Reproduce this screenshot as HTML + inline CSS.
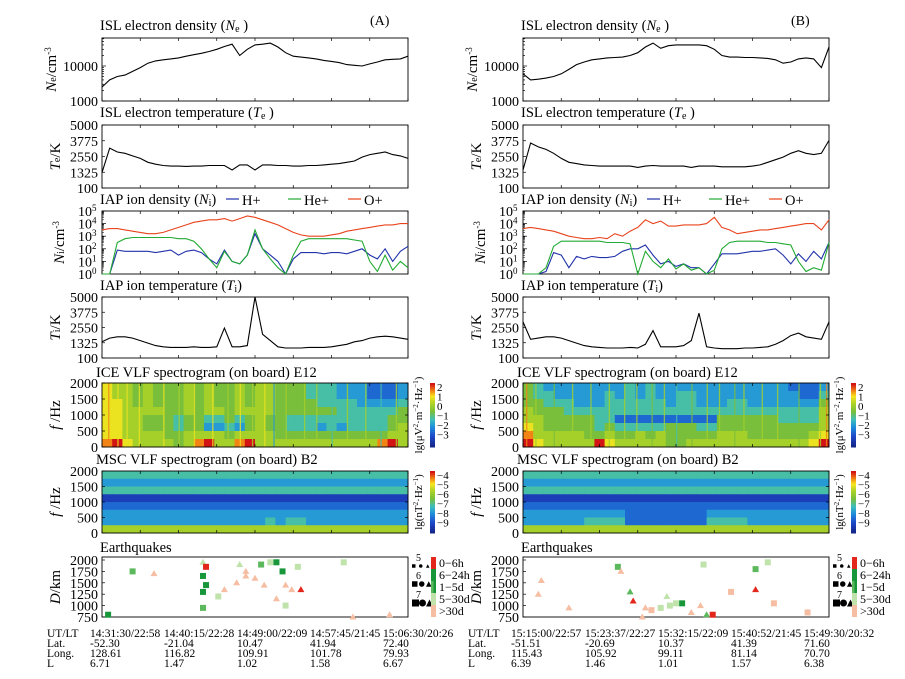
<!DOCTYPE html>
<html><head><meta charset="utf-8"><style>
html,body{margin:0;padding:0;background:#fff}
svg{display:block;font-family:"Liberation Serif",serif}
</style></head><body>
<svg id="fig" width="905" height="679" viewBox="0 0 905 679" xmlns="http://www.w3.org/2000/svg"></svg>
<script>
// ---------- DATA ----------
const neA = [2500,4000,5000,5500,7000,9000,12000,14000,15000,16000,17000,19000,21000,23000,26000,30000,36000,42000,20000,30000,40000,42000,45000,35000,24000,19000,18000,17000,16000,14500,13500,12500,11000,10500,10000,11500,13000,15000,15500,16000,19000];
const neB = [6000,4000,4200,4500,5000,6000,8000,11000,13000,15000,16000,17000,17500,18000,20000,24000,35000,45000,32000,38000,40000,40000,40000,40000,38000,30000,20000,18000,18000,17500,17500,17000,16500,15000,12000,13000,16000,17000,16000,9000,35000];
const teA = [1300,3200,2900,2800,2600,2400,2100,1950,1850,1800,1800,1780,1800,1800,1850,1850,1850,1500,1900,1900,1500,1900,1900,1850,1850,1800,1800,1850,1850,1900,1950,2000,2100,2200,2500,2700,2800,2900,2700,2600,2400];
const teB = [1500,3600,3300,3100,2800,2400,2100,2000,1900,1850,1800,1800,1800,1800,1800,1700,1800,1850,1800,1800,1800,1800,1700,1800,1800,1800,1750,1750,1750,1750,1800,1900,2100,2300,2500,2800,3000,2800,2700,2800,3800];
const opA = [3.5,3.6,3.6,3.5,3.4,3.3,3.2,3.2,3.3,3.5,3.7,3.9,4.1,4.2,4.3,4.3,4.4,4.2,4.4,4.6,4.5,4.3,4.1,3.9,3.6,3.3,3.1,3.0,3.0,3.0,3.1,3.2,3.4,3.5,3.6,3.7,3.8,3.9,3.9,4.0,4.0];
const opB = [3.6,3.7,3.6,3.5,3.4,3.2,3.0,2.9,2.8,2.8,2.9,2.8,3.2,3.0,3.4,3.7,4.3,4.0,4.2,3.8,3.8,3.9,3.9,3.9,4.0,4.5,3.7,3.5,3.2,3.3,3.4,3.5,3.5,3.6,3.7,3.8,3.9,4.0,4.0,3.5,4.3];
const heA = [0,0,2.5,2.8,2.9,2.9,2.9,2.9,2.9,2.9,2.8,2.8,2.6,2.0,1.2,0.5,1.8,1.0,0.8,1.5,3.5,2.0,1.2,0.5,0,1.5,2.6,2.8,2.8,2.8,2.8,2.8,2.8,2.7,2.6,1.0,0.2,1.5,0.3,1.0,0.5];
const heB = [0,0,0,0.5,2.2,2.6,2.6,2.6,2.6,2.6,2.6,2.5,2.5,2.5,2.4,0,1.8,1.0,0.5,1.2,0.4,0.8,0.3,0.5,0,0.3,2.0,2.5,2.6,2.6,2.6,2.6,2.5,2.5,2.4,2.3,1.0,0.2,0.5,0.3,2.5];
const hpA = [0,0,1.9,1.8,1.8,1.8,1.8,1.7,1.8,1.9,1.5,1.8,1.9,1.7,1.2,0.8,1.9,1.0,0.8,1.5,3.2,2.0,1.5,1.0,0,1.2,1.7,1.7,1.7,1.6,1.7,1.7,1.6,1.8,2.0,1.5,1.2,2.0,1.0,1.8,2.2];
const hpB = [0,0,0,0.2,1.7,1.5,0.5,1.4,1.2,1.4,1.3,1.3,1.4,1.8,2.0,2.0,2.3,1.5,0.8,1.0,0.6,0.8,0.5,0.5,0,0.8,1.6,1.6,1.6,1.7,1.8,1.8,1.9,2.0,1.5,0.8,1.6,1.0,1.8,1.2,2.5];
const tiA = [1400,1700,1800,1800,1700,1500,1300,1100,1000,950,950,950,1000,950,950,1000,2500,1000,1000,1100,5000,2000,1500,1000,900,900,900,950,950,950,1000,1100,1200,1400,1500,1700,1800,1850,1800,1700,1600];
const tiB = [3000,1600,1700,1800,1800,1700,1500,1300,1100,1000,950,900,900,900,950,900,1200,2300,1000,1000,1000,1100,1500,3700,1000,900,850,850,850,900,900,950,1000,1200,1500,1900,2100,1800,1700,1600,3000];
// spectrogram levels (0..9), rows top(2000 Hz) -> bottom(0 Hz)
const iceA = ["766565556565565665554443332223","766565556565565665554443332223","776565556565565665555444433334","776666556566566665555554444445","776655545544545655444444444455","776655545533435655444343444456","776666556666566665555555555566","897666656896689666666666666896"];
const iceB = ["543333333343433333333333332223","544333334343433443333333333224","554443334444443443334433333335","655544444444444444444444444446","665555544222222222255555544446","765555545444445554455555555556","866666556556565555566655555567","976666697666665566666666666679"];
const mscA = ["444444444444444444444444444444","333333333333333333333333333333","444444444444444444444444444444","111111111111111111111111111111","222222222222222222222222222222","333333333333333333333333333333","333333333333333343443333333333","666666666666666666666666666666"];
const mscB = ["444444444444444444444444444444","333333333333333333333333333333","444444444444444444444444444444","111111111111111111111111111111","222222222222222222222222222222","333333333322222222333333333333","333333444422222222444433333333","666666666666666666666666666666"];
// vertical streaks in spectrograms (time fraction, level)
const streakTA = [0.02,0.05,0.08,0.12,0.2,0.25,0.3,0.36,0.41,0.45,0.49,0.53,0.56,0.6,0.66,0.7,0.75,0.8,0.86,0.91,0.96];
const streakLA = [8,7,7,7,7,6,7,7,6,7,6,7,3,6,6,6,4,6,6,4,6];
const streakTB = [0.01,0.04,0.1,0.16,0.22,0.28,0.33,0.37,0.42,0.46,0.5,0.55,0.6,0.64,0.69,0.72,0.78,0.83,0.9,0.97,0.99];
const streakLB = [8,6,5,6,6,6,6,6,5,6,4,5,6,6,5,6,6,6,5,6,8];
// earthquakes: time fraction, distance (km), age class, shape
const eqTA = [0.02,0.33,0.1,0.17,0.33,0.34,0.33,0.34,0.33,0.38,0.4,0.45,0.47,0.5,0.52,0.55,0.57,0.59,0.6,0.62,0.6,0.64,0.65,0.47,0.44,0.53,0.57,0.79,0.94,0.82];
const eqDA = [800,1650,1750,1700,1950,1850,1300,1450,950,1200,1350,1900,1750,1600,1900,1950,1950,1750,1450,1350,1000,1850,1350,1650,1500,1450,1150,1950,800,750];
const eqAgeA = [1,1,2,4,3,0,1,1,2,3,4,3,4,4,2,3,1,1,4,4,3,3,0,4,4,4,4,3,4,4];
const eqShpA = "sssttsssssttttssssttsstttttstt";
const eqTB = [0.31,0.32,0.06,0.05,0.15,0.35,0.36,0.4,0.42,0.45,0.48,0.5,0.52,0.55,0.58,0.6,0.62,0.59,0.68,0.76,0.76,0.8,0.82,0.93,0.39,0.47];
const eqDB = [1850,1750,1550,1250,950,1300,1100,950,900,950,1000,1050,1050,850,1000,800,800,1900,1300,1800,1350,1950,1050,850,750,1200];
const eqAgeB = [2,4,4,4,4,2,0,4,4,3,3,3,1,4,4,2,0,3,4,2,0,3,4,4,4,3];
const eqShpB = "stttttttssssstttsssstssstts";
const teTicks = [100,1325,2550,3775,5000];
const fTicks = [0,500,1000,1500,2000];
const dTicks = [750,1000,1250,1500,1750,2000];
const iceCbar = ["2","1","0","\u22121","\u22122","\u22123"];
const mscCbar = ["\u22124","\u22125","\u22126","\u22127","\u22128","\u22129"];
const ageLabels = ["0\u22126h","6\u221224h","1\u22125d","5\u221230d",">30d"];
const utA = ["14:31:30/22:58","14:40:15/22:28","14:49:00/22:09","14:57:45/21:45","15:06:30/20:26"];
const latA = ["-52.30","-21.04","10.47","41.94","72.40"];
const lonA = ["128.61","116.82","109.91","101.78","79.93"];
const lA = ["6.71","1.47","1.02","1.58","6.67"];
const utB = ["15:15:00/22:57","15:23:37/22:27","15:32:15/22:09","15:40:52/21:45","15:49:30/20:32"];
const latB = ["-51.51","-20.69","10.37","41.39","71.60"];
const lonB = ["115.43","105.92","99.11","81.14","70.70"];
const lB = ["6.39","1.46","1.01","1.57","6.38"];

// ---------- DRAWING ----------
const NS="http://www.w3.org/2000/svg";
const svg=document.getElementById('fig');
function mk(tag,attrs,parent){const e=document.createElementNS(NS,tag);for(const k in attrs)e.setAttribute(k,attrs[k]);(parent||svg).appendChild(e);return e;}
function txt(x,y,s,size,anchor,parent,extra){const e=mk('text',Object.assign({x:x,y:y,'font-size':size,'text-anchor':anchor||'start',fill:'#000'},extra||{}),parent);e.innerHTML=s;return e;}
const jetStops=[[0,[20,40,140]],[0.15,[30,70,200]],[0.3,[30,140,220]],[0.42,[60,190,190]],[0.55,[120,190,60]],[0.68,[170,210,40]],[0.8,[250,230,30]],[0.9,[240,120,20]],[1,[210,20,20]]];
function jet(v){for(let i=1;i<jetStops.length;i++){if(v<=jetStops[i][0]){const a=jetStops[i-1],b=jetStops[i],f=(v-a[0])/(b[0]-a[0]);const c=a[1].map((x,j)=>Math.round(x+(b[1][j]-x)*f));return `rgb(${c[0]},${c[1]},${c[2]})`;}}return 'rgb(210,20,20)';}
const ageColors=["#e3261c","#17973a","#5cb85c","#bfe3ab","#f5bea3"];
const TF=14, TT=14.5;

const rows={ne:[38,101],te:[125,188],ni:[211,274],ti:[297,358],ice:[383,447],msc:[471,533],eq:[557,617]};

function xTicks(g,x0,x1,y0,y1){for(let i=0;i<=8;i++){const x=x0+(x1-x0)*i/8;mk('line',{x1:x,x2:x,y1:y1,y2:y1-3,stroke:'#000','stroke-width':0.7},g);mk('line',{x1:x,x2:x,y1:y0,y2:y0+3,stroke:'#000','stroke-width':0.7},g);}}
function frame(g,x0,x1,y0,y1,name){const r=mk('rect',{x:x0,y:y0,width:x1-x0,height:y1-y0,fill:'none',stroke:'#000','stroke-width':0.9},g);}
function yLabel(g,x,yc,s){return txt(x,yc,s,15,'middle',g,{transform:`rotate(-90 ${x} ${yc})`});}
function linePath(g,vals,x0,x1,yfun,color,name){let d='';vals.forEach((v,i)=>{const x=x0+(x1-x0)*i/(vals.length-1);d+=(i?'L':'M')+x.toFixed(1)+' '+yfun(v).toFixed(1);});const p=mk('path',{d:d,fill:'none',stroke:color,'stroke-width':1.1},g);}

function drawColumn(ox,side){
  const x0=ox, x1=ox+306;
  const S=side==='A';
  const g=mk('g',{});
  
  
  const lblX=x0-50, tickX=x0-4;
  let [y0,y1]=rows.ne;
  txt(x0-2,30,'ISL electron density (<tspan font-style="italic">N</tspan><tspan font-size="10" dy="2">e</tspan><tspan dy="-2"> )</tspan>',TT,'start',g);
  const neY=v=>y1-(Math.log10(v)-3)*35;
  frame(g,x0,x1,y0,y1,'ne-panel-'+side);
  for(let d=3;d<=4;d++)for(let m=1;m<10;m++){const v=m*Math.pow(10,d);const y=neY(v);if(y<y0)continue;mk('line',{x1:x0,x2:x0+(m===1?4:2),y1:y,y2:y,stroke:'#000','stroke-width':0.7},g);}
  txt(tickX,neY(1000)+5,'1000',TF,'end',g);txt(tickX,neY(10000)+5,'10000',TF,'end',g);
  yLabel(g,lblX+4,(y0+y1)/2,'<tspan font-style="italic">N</tspan><tspan font-size="10">e</tspan>/cm<tspan font-size="9" dy="-5">-3</tspan>');
  xTicks(g,x0,x1,y0,y1);
  linePath(g,S?neA:neB,x0,x1,v=>Math.max(y0,neY(v)),'#000','ne-line-'+side);
  [y0,y1]=rows.te;
  txt(x0-2,117,'ISL electron temperature (<tspan font-style="italic">T</tspan><tspan font-size="10" dy="2">e</tspan><tspan dy="-2"> )</tspan>',TT,'start',g);
  const tY=(a,b)=>v=>b-(v-100)/4900*(b-a);
  let ty=tY(y0,y1);
  frame(g,x0,x1,y0,y1,'te-panel-'+side);
  teTicks.forEach(v=>{txt(tickX,ty(v)+5,v,TF,'end',g);mk('line',{x1:x0,x2:x0+3,y1:ty(v),y2:ty(v),stroke:'#000','stroke-width':0.7},g);});
  yLabel(g,lblX+8,(y0+y1)/2,'<tspan font-style="italic">T</tspan><tspan font-size="10">e</tspan>/K');
  xTicks(g,x0,x1,y0,y1);
  linePath(g,S?teA:teB,x0,x1,ty,'#000','te-line-'+side);
  [y0,y1]=rows.ni;
  txt(x0-2,204,'IAP ion density (<tspan font-style="italic">N</tspan><tspan font-size="10" dy="2">i</tspan><tspan dy="-2">)</tspan>',TT,'start',g);
  const legX=x0+124;
  [['H+','#2233aa',0],['He+','#22aa33',62],['O+','#e8431c',122]].forEach(([n,c,dx])=>{const lx=legX+dx;const l=mk('line',{x1:lx,x2:lx+13,y1:199,y2:199,stroke:c,'stroke-width':1.2},g);const t=txt(lx+16,205,n,TT,'start',g);});
  const niY=v=>y1-v/5*(y1-y0);
  frame(g,x0,x1,y0,y1,'ni-panel-'+side);
  for(let d=0;d<=5;d++){txt(tickX-6,niY(d)+5,'10',TF,'end',g);txt(tickX-6,niY(d),d,9,'start',g);mk('line',{x1:x0,x2:x0+4,y1:niY(d),y2:niY(d),stroke:'#000','stroke-width':0.7},g);}
  for(let d=0;d<5;d++)for(let m=2;m<10;m++){const y=niY(d+Math.log10(m));mk('line',{x1:x0,x2:x0+2,y1:y,y2:y,stroke:'#000','stroke-width':0.5},g);}
  yLabel(g,lblX+12,(y0+y1)/2,'<tspan font-style="italic">N</tspan><tspan font-size="10">i</tspan>/cm<tspan font-size="9" dy="-5">-3</tspan>');
  xTicks(g,x0,x1,y0,y1);
  linePath(g,S?hpA:hpB,x0,x1,niY,'#2233aa','h-plus-line-'+side);
  linePath(g,S?heA:heB,x0,x1,niY,'#22aa33','he-plus-line-'+side);
  linePath(g,S?opA:opB,x0,x1,niY,'#e8431c','o-plus-line-'+side);
  [y0,y1]=rows.ti;
  txt(x0-2,290,'IAP ion temperature (<tspan font-style="italic">T</tspan><tspan font-size="10" dy="2">i</tspan><tspan dy="-2">)</tspan>',TT,'start',g);
  ty=tY(y0,y1);
  frame(g,x0,x1,y0,y1,'ti-panel-'+side);
  teTicks.forEach(v=>{txt(tickX,ty(v)+5,v,TF,'end',g);mk('line',{x1:x0,x2:x0+3,y1:ty(v),y2:ty(v),stroke:'#000','stroke-width':0.7},g);});
  yLabel(g,lblX+8,(y0+y1)/2,'<tspan font-style="italic">T</tspan><tspan font-size="10">i</tspan>/K');
  xTicks(g,x0,x1,y0,y1);
  linePath(g,S?tiA:tiB,x0,x1,ty,'#000','ti-line-'+side);
  function spec(key,mat,title,ty0,cbarLbls,unit,name,stT,stL){
    const [a,b]=rows[key];
    txt(x0-6,ty0,title,TT,'start',g);
    const nr=mat.length,nc=mat[0].length,cw=(x1-x0)/nc,ch=(b-a)/nr;
    for(let r=0;r<nr;r++)for(let c=0;c<nc;c++){const v=+mat[r][c]/9;const rc=mk('rect',{x:x0+c*cw,y:a+r*ch,width:cw+0.4,height:ch+0.4,fill:jet(v)},g);}
    if(stT)stT.forEach((t,i)=>{const x=x0+t*(x1-x0);const s=mk('rect',{x:x,y:a,width:1.3,height:b-a,fill:jet(stL[i]/9),opacity:0.8},g);});
    frame(g,x0,x1,a,b,name);
    const fy=v=>b-v/2000*(b-a);
    fTicks.forEach(v=>{txt(tickX,fy(v)+5,v,TF,'end',g);mk('line',{x1:x0,x2:x0+3,y1:fy(v),y2:fy(v),stroke:'#000','stroke-width':0.7},g);mk('line',{x1:x1,x2:x1-3,y1:fy(v),y2:fy(v),stroke:'#000','stroke-width':0.7},g);});
    xTicks(g,x0,x1,a,b);
    yLabel(g,lblX+8,(a+b)/2,'<tspan font-style="italic">f</tspan> /Hz');
    const cx=x1+22;
    for(let i=0;i<30;i++){mk('rect',{x:cx,y:a+i*(b-a)/30,width:5,height:(b-a)/30+0.5,fill:jet(1-i/29)},g);}
    cbarLbls.forEach((s,i)=>txt(cx+7,a+8+i*9.5,s,11,'start',g));
    const ux=x1+14,uy=(a+b)/2;
    txt(ux,uy,unit,11,'middle',g,{transform:`rotate(-90 ${ux} ${uy})`});
  }
  spec('ice',S?iceA:iceB,'ICE VLF spectrogram (on board) E12',377,iceCbar,'lg(\u03bcV<tspan font-size="7" dy="-4">2</tspan><tspan dy="4">\u00b7m</tspan><tspan font-size="7" dy="-4">\u22122</tspan><tspan dy="4">\u00b7Hz</tspan><tspan font-size="7" dy="-4">\u22121</tspan><tspan dy="4">)</tspan>','ice-spectrogram-'+side,S?streakTA:streakTB,S?streakLA:streakLB);
  spec('msc',S?mscA:mscB,'MSC VLF spectrogram (on board) B2',464,mscCbar,'lg(nT<tspan font-size="7" dy="-4">2</tspan><tspan dy="4">\u00b7Hz</tspan><tspan font-size="7" dy="-4">\u22121</tspan><tspan dy="4">)</tspan>','msc-spectrogram-'+side);
  [y0,y1]=rows.eq;
  txt(x0-2,552,'Earthquakes',TT,'start',g);
  frame(g,x0,x1,y0,y1,'earthquake-panel-'+side);
  const dY=v=>y1-(v-750)/1250*(y1-y0-3);
  dTicks.forEach(v=>{txt(tickX,dY(v)+5,v,TF,'end',g);mk('line',{x1:x0,x2:x0+3,y1:dY(v),y2:dY(v),stroke:'#000','stroke-width':0.7},g);});
  yLabel(g,lblX+8,(y0+y1)/2,'<tspan font-style="italic">D</tspan>/km');
  const ts=S?eqTA:eqTB,ds=S?eqDA:eqDB,ag=S?eqAgeA:eqAgeB,sh=S?eqShpA:eqShpB;
  ts.forEach((t,i)=>{const x=x0+t*(x1-x0),y=dY(ds[i]),c=ageColors[ag[i]];let e;
    if(sh[i]==='t')e=mk('polygon',{points:`${x},${y-3.5} ${x-3.5},${y+2.5} ${x+3.5},${y+2.5}`,fill:c},g);
    else e=mk('rect',{x:x-3,y:y-3,width:6,height:6,fill:c},g);
    });
  const mx=x1+4;
  [[5,566,3.5],[6,584,5.5],[7,603,7]].forEach(([m,yy,s])=>{txt(mx+4,yy-5,m,10,'start',g);const c=mx+s/2;mk('rect',{x:c-s/2,y:yy-s/2,width:s,height:s,fill:'#000'},g);mk('circle',{cx:c+7,cy:yy,r:s/2,fill:'#000'},g);mk('polygon',{points:`${c+14},${yy-s/2} ${c+14-s/2},${yy+s/2} ${c+14+s/2},${yy+s/2}`,fill:'#000'},g);});
  const ax=x1+23;
  ageColors.forEach((c,i)=>{mk('rect',{x:ax,y:y0+i*12,width:5,height:12,fill:c},g);if(i<3)mk('rect',{x:ax+2.5,y:y0+i*12,width:2.5,height:12,fill:i===0?'#e3261c':'#17973a'},g);txt(ax+8,y0+10+i*12,ageLabels[i],12,'start',g);});
  const tx0=x0-55, vx=[x0-12,x0+62,x0+135,x0+208,x0+281];
  const rowsT=[['UT/LT',S?utA:utB,637],['Lat.',S?latA:latB,647],['Long.',S?lonA:lonB,657],['L',S?lA:lB,667]];
  rowsT.forEach(([lab,vals,yy])=>{txt(tx0,yy,lab,11.5,'start',g);vals.forEach((v,i)=>txt(vx[i],yy,v,11.5,'start',g));});
  txt(x1-38,25,S?'(A)':'(B)',14,'start',g);
}
drawColumn(102,'A');
drawColumn(523,'B');
</script>
</body></html>
